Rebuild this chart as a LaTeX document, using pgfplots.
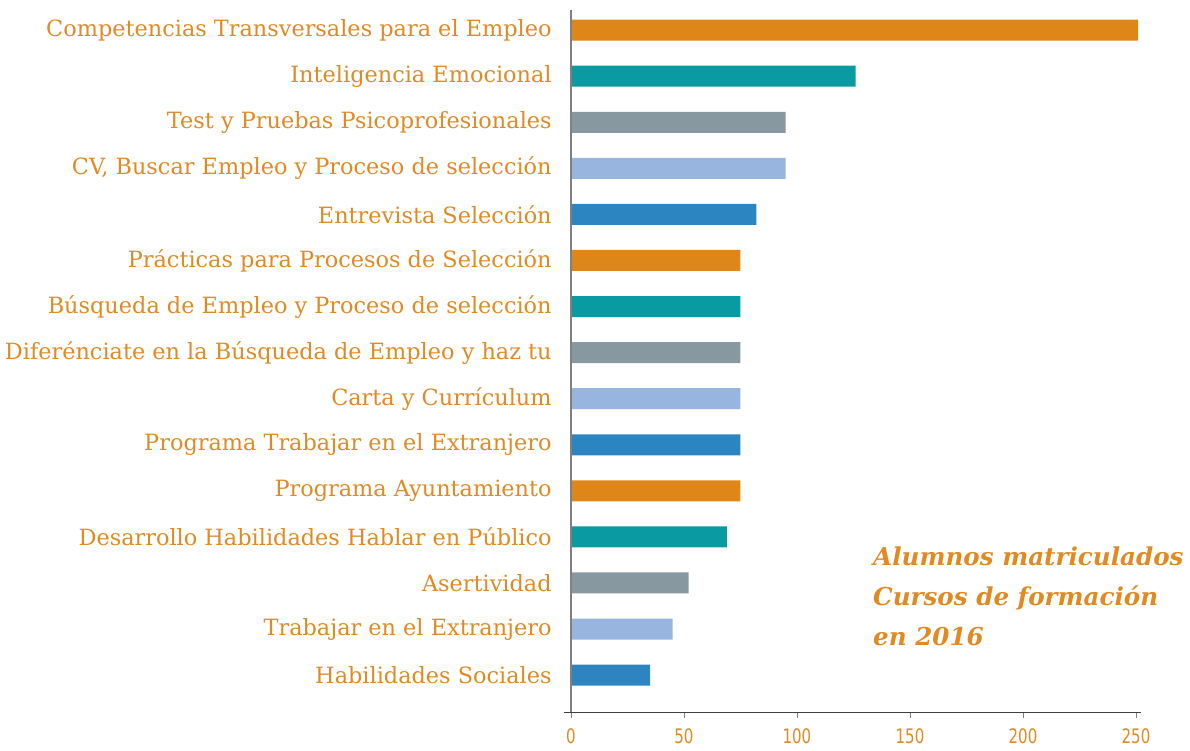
\documentclass[border=0pt]{standalone}
\usepackage{pgfplots}
\pgfplotsset{compat=1.18}
\usepackage{fontspec}
\setmainfont{DejaVu Serif}
\newfontfamily\tickfont[FakeStretch=0.75]{DejaVu Sans}
\definecolor{corange}{HTML}{DF8619}
\definecolor{cteal}{HTML}{0A9BA2}
\definecolor{cgray}{HTML}{8898A0}
\definecolor{clblue}{HTML}{97B5DF}
\definecolor{cblue}{HTML}{2C85C0}
\definecolor{ctext}{HTML}{E08A24}
\begin{document}
\begin{tikzpicture}[x=1pt,y=1pt]
\useasboundingbox (0,0) rectangle (1190,750);
\begin{axis}[
  at={(564.2pt,38pt)}, anchor=south west,
  scale only axis, width=576.3pt, height=701.7pt,
  xmin=-3, xmax=252, ymin=-0.8, ymax=14.43,
  axis line style={draw=none},
  xtick={0,50,100,150,200,250},
  xticklabels={0,50,100,150,200,250},
  xtick pos=bottom, ytick pos=left,
  tick align=outside,
  major tick length=6pt,
  x tick style={color=gray, line width=0.8pt},
  y tick style={draw=none},
  xticklabel style={font=\tickfont\fontsize{20}{22}\selectfont, text=ctext, yshift=-7pt},
  ytick={0,...,14},
  yticklabels={Habilidades Sociales, Trabajar en el Extranjero, Asertividad,
    Desarrollo Habilidades Hablar en Público, Programa Ayuntamiento,
    Programa Trabajar en el Extranjero, Carta y Currículum,
    Diferénciate en la Búsqueda de Empleo y haz tu,
    Búsqueda de Empleo y Proceso de selección,
    Prácticas para Procesos de Selección, Entrevista Selección,
    {CV, Buscar Empleo y Proceso de selección},
    Test y Pruebas Psicoprofesionales, Inteligencia Emocional,
    Competencias Transversales para el Empleo},
  yticklabel style={font=\fontsize{22.4}{26}\selectfont, text=ctext, xshift=-3pt},
  clip=false,
]
\addplot[xbar, bar width=21pt, bar shift=0pt, fill=corange, draw=none] coordinates {(251,14) (75,9) (75,4)};
\addplot[xbar, bar width=21pt, bar shift=0pt, fill=cteal, draw=none] coordinates {(126,13) (75,8) (69,3)};
\addplot[xbar, bar width=21pt, bar shift=0pt, fill=cgray, draw=none] coordinates {(95,12) (75,7) (52,2)};
\addplot[xbar, bar width=21pt, bar shift=0pt, fill=clblue, draw=none] coordinates {(95,11) (75,6) (45,1)};
\addplot[xbar, bar width=21pt, bar shift=0pt, fill=cblue, draw=none] coordinates {(82,10) (75,5) (35,0)};
\draw[color=gray, line width=1.4pt] (axis cs:0,-0.8) -- (axis cs:0,14.43);
\draw[color=darkgray, line width=0.8pt] (axis cs:-3,-0.8) -- (axis cs:252,-0.8);
\end{axis}
\node[anchor=base west, align=left, text=ctext, font=\bfseries\itshape\fontsize{24.6}{40}\selectfont, inner sep=0pt] at (873,105) {Alumnos matriculados\\Cursos de formación\\en 2016};
\end{tikzpicture}
\end{document}
